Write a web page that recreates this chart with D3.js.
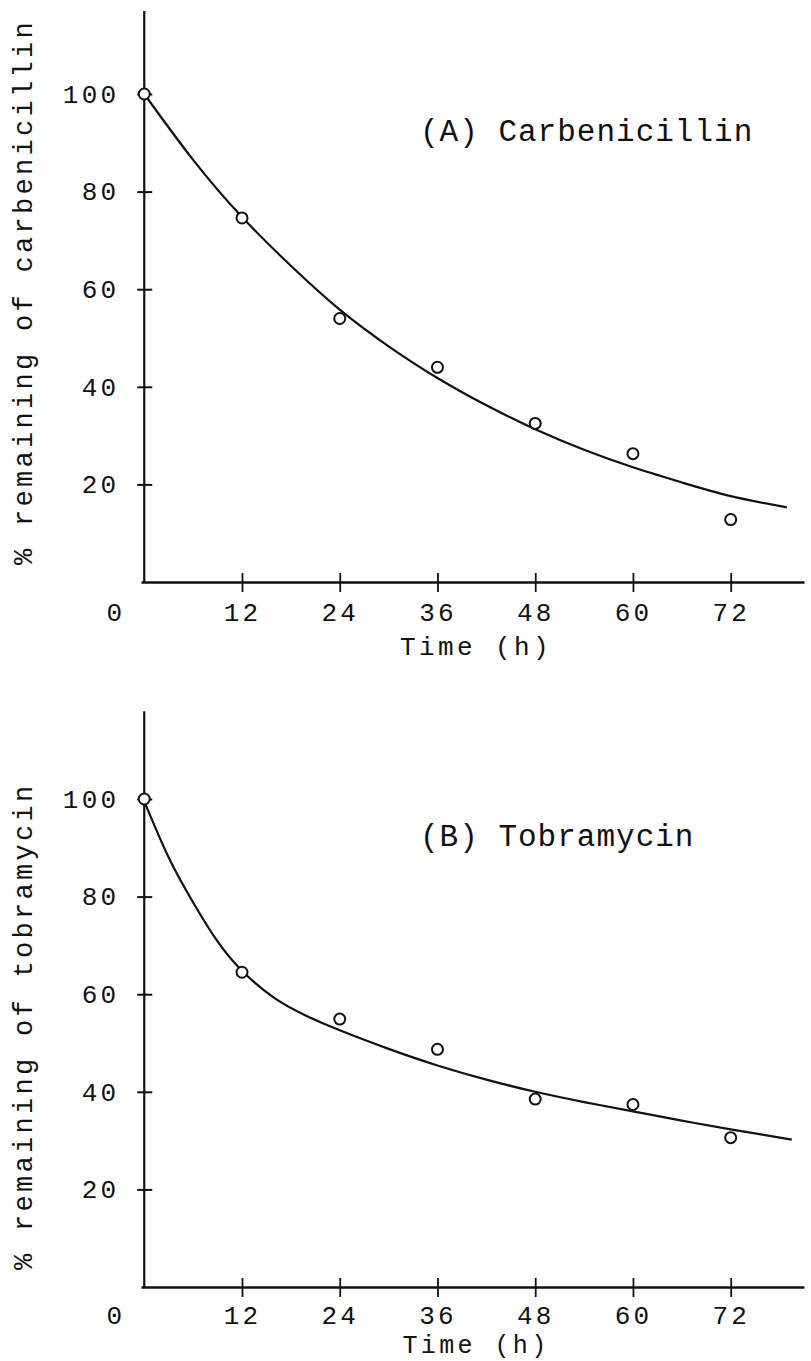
<!DOCTYPE html>
<html>
<head>
<meta charset="utf-8">
<script src="https://cdn.jsdelivr.net/npm/d3@7"></script>
<style>
  body { margin: 0; background: #fff; }
  text { font-family: "Liberation Mono", "Courier New", monospace; fill: #111; }
</style>
</head>
<body>
<svg id="chart"></svg>
<script>
// sampling times and measured points
const hours = [0, 12, 24, 36, 48, 60, 72];
const xTicks = [12, 24, 36, 48, 60, 72];
const yTicks = [20, 40, 60, 80, 100];
const carbPoints = [100, 74.6, 54, 44, 32.5, 26.3, 12.8];
const tobraPoints = [100, 64.5, 54.9, 48.7, 38.5, 37.4, 30.6];

// fitted curves
const carbCurveT = [0, 6, 12, 18, 24, 30, 36, 42, 48, 54, 60, 66, 72, 78.9];
const carbCurveV = [100, 86.5, 74.8, 64.8, 55.8, 48.3, 41.8, 36.2, 31.3, 27.1, 23.5, 20.4, 17.6, 15.3];
const tobraCurveT = [0, 3, 6, 9, 12, 16, 20, 24, 30, 36, 42, 48, 54, 60, 66, 72, 79.5];
const tobraCurveV = [99.5, 88, 78.8, 70.8, 64.8, 59.2, 55.5, 52.6, 48.8, 45.4, 42.5, 40, 37.9, 36, 34.1, 32.3, 30.2];

const width = 811, height = 1361;

const svg = d3.select("#chart")
  .attr("width", width)
  .attr("height", height)
  .style("background", "#fff");

function drawPanel(p) {
  const x = d3.scaleLinear().domain([-0.4, 81]).range([p.left - 3.3, p.left - 3.3 + 81.4 * 8.145]);
  const y = d3.scaleLinear().domain([0, p.yMax]).range([p.base, p.base - p.yMax * 4.88]);
  const g = svg.append("g");

  // y axis, ticks crossing the line
  const yAxis = g.append("g")
    .attr("transform", `translate(${x(0)},0)`)
    .call(d3.axisLeft(y).tickValues(yTicks).tickSizeOuter(0).tickSizeInner(7).tickPadding(18));
  yAxis.attr("font-size", null).attr("font-family", null);
  yAxis.select(".domain").attr("d", `M0,${y(0)}V${y(p.yMax)}`).attr("stroke", "#111").attr("stroke-width", 2.2);
  yAxis.selectAll(".tick line").attr("x1", 8).attr("x2", -7).attr("stroke", "#111").attr("stroke-width", 2);
  yAxis.selectAll(".tick text").style("font-size", "26px").style("letter-spacing", "3.2px");

  // x axis
  const xAxis = g.append("g")
    .attr("transform", `translate(0,${p.base})`)
    .call(d3.axisBottom(x).tickValues(xTicks).tickSizeOuter(0).tickSizeInner(10).tickPadding(p.xPad));
  xAxis.attr("font-size", null).attr("font-family", null);
  xAxis.select(".domain").attr("stroke", "#111").attr("stroke-width", 2.6);
  xAxis.selectAll(".tick line").attr("y1", -9).attr("y2", 10).attr("stroke", "#111").attr("stroke-width", 1.8);
  xAxis.selectAll(".tick text").style("font-size", "26px").style("letter-spacing", "3.2px");

  // the lone "0" at the corner
  g.append("text")
    .attr("x", x(0) - 30)
    .attr("y", p.base + 28.5 + p.xPad)
    .attr("text-anchor", "middle")
    .style("font-size", "26px")
    .text("0");

  g.append("text")
    .attr("x", 476)
    .attr("y", p.base + p.timeOffset)
    .attr("text-anchor", "middle")
    .style("font-size", p.timeSize + "px")
    .style("letter-spacing", "3.4px")
    .text("Time (h)");

  g.append("text")
    .attr("transform", `translate(32,${p.base - 17}) rotate(-90)`)
    .attr("text-anchor", "start")
    .style("font-size", "27px")
    .style("letter-spacing", "3.3px")
    .text(p.yLabel);

  g.append("text")
    .attr("x", 420)
    .attr("y", p.base - 441)
    .style("font-size", "31px")
    .style("letter-spacing", "1px")
    .text(p.title);

  // fitted curve
  const line = d3.line()
    .x(d => x(d[0]))
    .y(d => y(d[1]))
    .curve(d3.curveNatural);
  g.append("path")
    .datum(d3.zip(p.curveT, p.curveV))
    .attr("fill", "none")
    .attr("stroke", "#111")
    .attr("stroke-width", 2.2)
    .attr("d", line);

  // data points
  g.selectAll("circle")
    .data(d3.zip(hours, p.points))
    .enter().append("circle")
    .attr("cx", d => x(d[0]))
    .attr("cy", d => y(d[1]))
    .attr("r", 5.5)
    .attr("fill", "#fff")
    .attr("stroke", "#111")
    .attr("stroke-width", 2);
}

drawPanel({
  left: 144.3, base: 582, yMax: 117, xPad: 10.5, timeOffset: 73, timeSize: 26,
  title: "(A) Carbenicillin", yLabel: "% remaining of carbenicillin",
  points: carbPoints, curveT: carbCurveT, curveV: carbCurveV
});

drawPanel({
  left: 144.3, base: 1287, yMax: 118, xPad: 8.5, timeOffset: 66, timeSize: 25,
  title: "(B) Tobramycin", yLabel: "% remaining of tobramycin",
  points: tobraPoints, curveT: tobraCurveT, curveV: tobraCurveV
});
</script>
</body>
</html>
